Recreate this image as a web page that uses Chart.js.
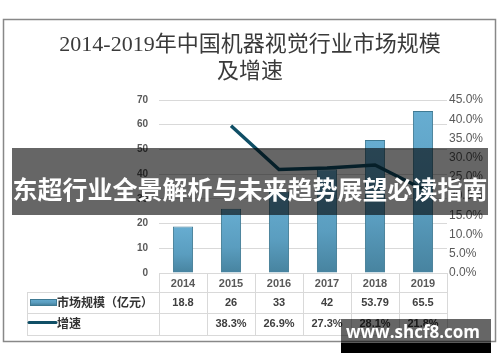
<!DOCTYPE html>
<html>
<head>
<meta charset="utf-8">
<script src="https://cdn.jsdelivr.net/npm/chart.js@4.4.1/dist/chart.umd.min.js"></script>
<style>
  html, body { margin: 0; padding: 0; background: #fff; }
  #wrap { width: 500px; height: 362px; position: relative; }
</style>
</head>
<body>
<div id="wrap"><canvas id="chart" width="500" height="362"></canvas></div>
<script>
const years = ["2014", "2015", "2016", "2017", "2018", "2019"];
const marketSize = [18.8, 26, 33, 42, 53.79, 65.5];
const growth = [null, 38.3, 26.9, 27.3, 28.1, 21.8];
const sizeLabels = ["18.8", "26", "33", "42", "53.79", "65.5"];
const growthLabels = ["", "38.3%", "26.9%", "27.3%", "28.1%", "21.8%"];
const titleLines = ["2014-2019年中国机器视觉行业市场规模", "及增速"];
const seriesNames = ["市场规模（亿元）", "增速"];
const bannerText = "东超行业全景解析与未来趋势展望必读指南";
const watermarkText = "www.shcf8.com";

const SANS = "'Liberation Sans', 'Noto Sans CJK SC', sans-serif";
const CJK = "'Noto Sans CJK SC', 'Liberation Sans', sans-serif";
const GRID = "#d9d9d9";
const LINE = "#104f66";

function barGradient(ctx, top, bottom) {
  const g = ctx.createLinearGradient(0, top, 0, bottom);
  g.addColorStop(0, "#67add1");
  g.addColorStop(0.6, "#5a9dbf");
  g.addColorStop(1, "#47839f");
  return g;
}

const framePlugin = {
  id: "frame",
  beforeDraw(chart) {
    const ctx = chart.ctx;
    ctx.save();
    ctx.fillStyle = "#fff";
    ctx.fillRect(0, 0, chart.width, chart.height);
    ctx.strokeStyle = "#888";
    ctx.lineWidth = 1.5;
    ctx.strokeRect(3.5, 19.5, 492, 322);
    ctx.fillStyle = "#3a3a3a";
    ctx.font = "22px 'Liberation Serif', 'Noto Sans CJK SC', serif";
    ctx.textAlign = "center";
    ctx.textBaseline = "middle";
    ctx.fillText(titleLines[0], 250, 45);
    ctx.fillText(titleLines[1], 250, 72);
    ctx.restore();
  },
};

const tablePlugin = {
  id: "table",
  afterDraw(chart) {
    const ctx = chart.ctx;
    const x = chart.scales.x;
    const area = chart.chartArea;
    const colW = (area.right - area.left) / years.length;
    const rowTop = 292, rowMid = 313, rowBot = 335, legLeft = 27;
    ctx.save();
    ctx.strokeStyle = GRID;
    ctx.lineWidth = 1;
    [rowTop, rowMid, rowBot].forEach((y) => {
      ctx.beginPath();
      ctx.moveTo(legLeft, y + 0.5);
      ctx.lineTo(area.right, y + 0.5);
      ctx.stroke();
    });
    ctx.beginPath();
    ctx.moveTo(legLeft + 0.5, rowTop);
    ctx.lineTo(legLeft + 0.5, rowBot);
    ctx.stroke();
    for (let i = 0; i <= years.length; i++) {
      const px = Math.round(area.left + i * colW) + 0.5;
      ctx.beginPath();
      ctx.moveTo(px, area.bottom);
      ctx.lineTo(px, rowBot);
      ctx.stroke();
    }
    // legend keys
    ctx.fillStyle = barGradient(ctx, 299, 305);
    ctx.fillRect(30, 299, 26, 6);
    ctx.strokeStyle = "#3f7a93";
    ctx.strokeRect(30.5, 299.5, 26, 6);
    ctx.strokeStyle = LINE;
    ctx.lineWidth = 3;
    ctx.lineCap = "round";
    ctx.beginPath();
    ctx.moveTo(29, 322.5);
    ctx.lineTo(56, 322.5);
    ctx.stroke();
    ctx.fillStyle = "#333";
    ctx.font = "bold 12px " + CJK;
    ctx.textAlign = "left";
    ctx.textBaseline = "middle";
    ctx.fillText(seriesNames[0], 57, 302.5);
    ctx.fillText(seriesNames[1], 57, 323);
    ctx.fillStyle = "#404040";
    ctx.font = "bold 11px " + SANS;
    ctx.textAlign = "center";
    years.forEach((_, i) => {
      const cx = x.getPixelForValue(i);
      ctx.fillText(sizeLabels[i], cx, 302.5);
      ctx.fillText(growthLabels[i], cx, 323.5);
    });
    ctx.restore();
  },
};

const overlayPlugin = {
  id: "overlay",
  afterDraw(chart) {
    const ctx = chart.ctx;
    ctx.save();
    ctx.fillStyle = "rgba(0,0,0,0.6)";
    ctx.fillRect(12, 148, 476, 67);
    ctx.fillStyle = "#fff";
    ctx.font = "bold 25px " + CJK;
    ctx.textAlign = "center";
    ctx.textBaseline = "middle";
    ctx.fillText(bannerText, 250, 189);

    ctx.fillStyle = "rgba(0,0,0,0.6)";
    ctx.fillRect(341, 319, 150, 24);
    ctx.fillStyle = "#000";
    ctx.fillRect(341, 343, 150, 10);
    ctx.fillStyle = "#fff";
    ctx.font = "bold 17px 'Open Sans', sans-serif";
    ctx.fillText(watermarkText, 413, 333);
    ctx.restore();
  },
};

new Chart(document.getElementById("chart"), {
  data: {
    labels: years,
    datasets: [
      {
        type: "line",
        label: seriesNames[1],
        data: growth,
        yAxisID: "y1",
        borderColor: LINE,
        borderWidth: 3.5,
        pointRadius: 0,
        tension: 0,
        order: 0,
      },
      {
        type: "bar",
        label: seriesNames[0],
        data: marketSize,
        yAxisID: "y",
        backgroundColor: (c) => {
          const chart = c.chart;
          if (!chart.chartArea || c.raw == null) return "#5fa3c6";
          const y = chart.scales.y;
          return barGradient(chart.ctx, y.getPixelForValue(c.raw), y.getPixelForValue(0));
        },
        borderColor: "#3f7a93",
        borderWidth: 1,
        categoryPercentage: 1,
        barPercentage: 0.42,
        order: 1,
      },
    ],
  },
  options: {
    responsive: false,
    animation: false,
    devicePixelRatio: 1,
    layout: { padding: { left: 100, right: 8, top: 100, bottom: 70 } },
    plugins: {
      legend: { display: false },
      title: { display: false },
      tooltip: { enabled: false },
    },
    scales: {
      x: {
        grid: { display: false },
        border: { display: false },
        ticks: { color: "#595959", font: { family: SANS, size: 11, weight: "bold" }, padding: -4 },
        afterFit: (s) => { s.height = 19; },
      },
      y: {
        position: "left",
        min: 0,
        max: 70,
        ticks: { stepSize: 10, color: "#595959", font: { family: SANS, size: 10, weight: "bold" }, padding: 11 },
        grid: { color: GRID, drawTicks: false },
        border: { display: false },
        afterFit: (s) => { s.width = 59; },
      },
      y1: {
        position: "right",
        min: 0,
        max: 45,
        ticks: {
          stepSize: 5,
          color: "#595959",
          font: { family: SANS, size: 12 },
          padding: 2,
          callback: (v) => v.toFixed(1) + "%",
        },
        grid: { display: false, drawTicks: false },
        border: { display: false },
        afterFit: (s) => { s.width = 45; },
      },
    },
  },
  plugins: [framePlugin, tablePlugin, overlayPlugin],
});
</script>
</body>
</html>
